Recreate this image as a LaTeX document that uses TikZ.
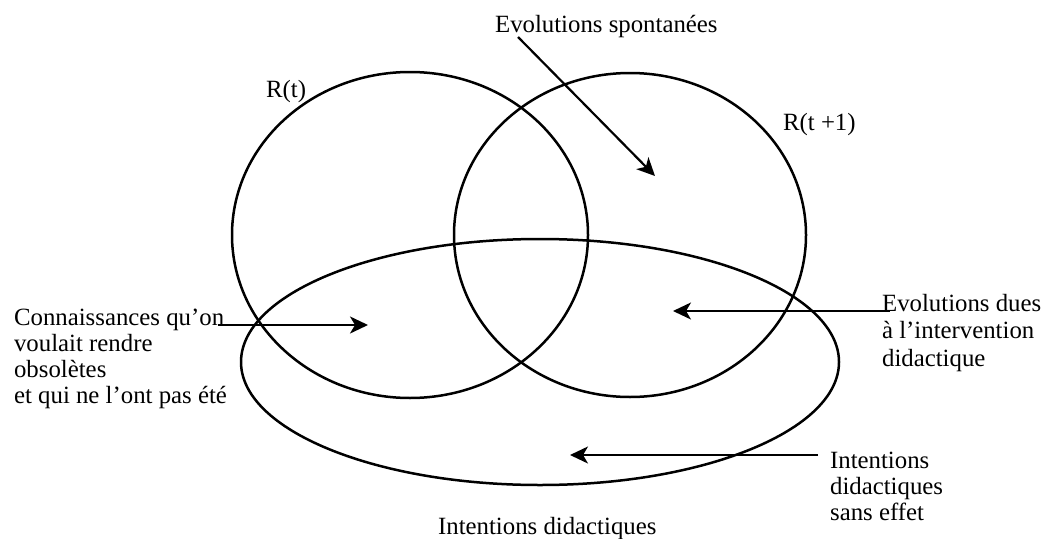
\documentclass[tikz,border=0pt]{standalone}
\usepackage{fontspec}
\setmainfont{Liberation Serif}
\usetikzlibrary{arrows.meta,shapes.geometric}

\begin{document}
\begin{tikzpicture}[x=1pt,y=-1pt,->,>={Stealth[length=18pt,width=17pt,inset=5pt]},
                    line width=2.2pt,
                    every node/.style={font=\fontsize{24.8}{26}\selectfont},
                    txt/.style={inner sep=0pt,anchor=base west,align=left},
                    region/.style={draw,-,ellipse,line width=2.5pt,inner sep=0pt}]
  \useasboundingbox (0,0) rectangle (1041,538);

  \node[region,minimum width=356pt,minimum height=326pt] (Rt)  at (410,235) {};
  \node[region,minimum width=352pt,minimum height=324pt] (Rt1) at (630,235) {};
  \node[region,minimum width=598pt,minimum height=246pt] (ID)  at (540,362) {};

  % multi-line labels sit on the baseline of their last line
  \node[txt] (spont)  at (494,32)  {Evolutions spontanées};
  \node[txt] (rt)     at (265,97)  {R(t)};
  \node[txt] (rt1)    at (782,130) {R(t +1)};
  \node[txt] (obs)    at (13,403)  {Connaissances qu’on\\voulait rendre\\obsolètes\\et qui ne l’ont pas été};
  \node[txt,font=\fontsize{24.8}{27.5}\selectfont]
             (dues)   at (881,366) {Evolutions dues\\à l’intervention\\didactique};
  \node[txt] (sans)   at (829,520) {Intentions\\didactiques\\sans effet};
  \node[txt] (intent) at (437,534) {Intentions didactiques};

  \coordinate (spont from) at (518,37);
  \coordinate (spont tip)  at (655,176);
  \coordinate (obs from)   at (218,325);
  \coordinate (obs tip)    at (368,325);
  \coordinate (dues from)  at (890,311);
  \coordinate (dues tip)   at (673,311);
  \coordinate (sans from)  at (818,455);
  \coordinate (sans tip)   at (570,455);

  \path (spont from) edge (spont tip)
        (obs from)   edge (obs tip)
        (dues from)  edge (dues tip)
        (sans from)  edge (sans tip);
\end{tikzpicture}
\end{document}
